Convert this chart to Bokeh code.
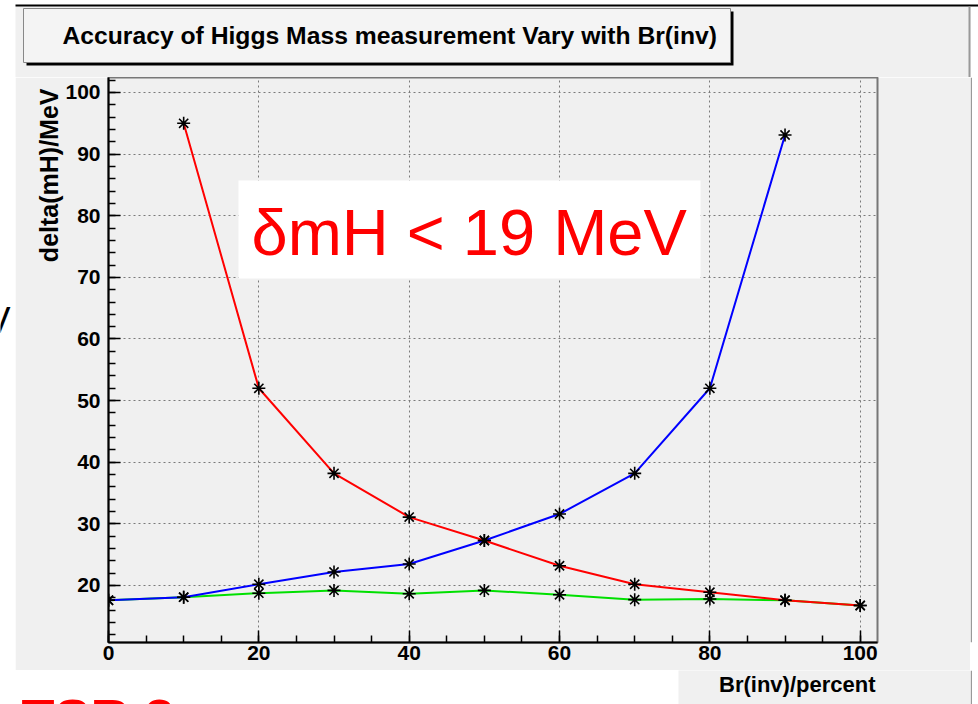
import math
from bokeh.plotting import figure
from bokeh.models import SingleIntervalTicker, Label, BoxAnnotation, Title, Range1d
from bokeh.layouts import column, row
from bokeh.embed import file_html
from bokeh.resources import INLINE

# ---- data ----
br_red = [10, 20, 30, 40, 50, 60, 70, 80, 90, 100]
dm_red = [95.0, 52.0, 38.2, 31.1, 27.3, 23.2, 20.2, 18.9, 17.6, 16.75]
br_blue = [0, 10, 20, 30, 40, 50, 60, 70, 80, 90]
dm_blue = [17.6, 18.1, 20.2, 22.2, 23.5, 27.3, 31.6, 38.2, 52.0, 93.1]
br_green = [0, 10, 20, 30, 40, 50, 60, 70, 80, 90, 100]
dm_green = [17.6, 18.1, 18.75, 19.2, 18.65, 19.2, 18.5, 17.7, 17.8, 17.6, 16.75]

title_text = "Accuracy of Higgs Mass measurement Vary with Br(inv)"
x_title = "Br(inv)/percent"
y_title = "delta(mH)/MeV"
note_text = "\u03b4mH < 19 MeV"

PANEL = "#f0f0f0"
FONT = "Liberation Sans"
W, H = 978, 704

# ---- page geometry (pixels) ----
PX0, PX1 = 15, 970      # grey pad, horizontally
PY0, PY1 = 6, 670       # grey pad (main part), vertically
FL, FR, FT, FB = 108, 877, 77, 642   # frame on the page
XR = (0.0, 102.3)
YR = (10.75, 102.43)


def dx(px):
    return XR[0] + (px - FL) * (XR[1] - XR[0]) / (FR - FL)


def dy(py):
    return YR[1] - (py - FT) * (YR[1] - YR[0]) / (FB - FT)


def blank(w, h, color, bottom=0):
    fh = h - bottom
    f = figure(width=w, height=h, frame_width=w, frame_height=fh,
               x_range=Range1d(0, w), y_range=Range1d(fh, 0),
               output_backend="svg", toolbar_location=None, title=None,
               x_axis_location=None, y_axis_location=None, min_border=0,
               min_border_bottom=bottom)
    f.border_fill_color = color
    f.background_fill_color = color
    f.outline_line_color = None
    f.xgrid.visible = False
    f.ygrid.visible = False
    return f


# ---- main plot ----
p = figure(width=PX1 - PX0, height=PY1 - FT, x_range=XR, y_range=YR,
           output_backend="svg", toolbar_location=None, title=None,
           min_border_left=FL - PX0, min_border_right=PX1 - FR,
           min_border_top=0, min_border_bottom=PY1 - FB)
p.border_fill_color = PANEL
p.background_fill_color = PANEL
p.outline_line_color = "#777777"
p.outline_line_width = 2

p.xaxis.ticker = SingleIntervalTicker(interval=20, num_minor_ticks=4)
p.yaxis.ticker = SingleIntervalTicker(interval=10, num_minor_ticks=5)
for ax in (p.xaxis[0], p.yaxis[0]):
    ax.axis_line_color = "black"
    ax.axis_line_width = 2
    ax.major_tick_in = 12
    ax.major_tick_out = 0
    ax.minor_tick_in = 7
    ax.minor_tick_out = 0
    ax.major_tick_line_color = "black"
    ax.major_tick_line_width = 1.5
    ax.minor_tick_line_color = "black"
    ax.minor_tick_line_width = 1.5
    ax.major_label_text_font = FONT
    ax.major_label_text_font_style = "bold"
    ax.major_label_text_font_size = "21px"
    ax.major_label_text_color = "black"
p.xaxis[0].major_label_standoff = 3
p.yaxis[0].major_label_standoff = 8

for g in (p.xgrid[0], p.ygrid[0]):
    g.grid_line_color = "#7a7a7a"
    g.grid_line_dash = "2 3"
    g.grid_line_width = 1

# white note box inside frame
p.add_layout(BoxAnnotation(left=dx(238), right=dx(700), top=dy(180), bottom=dy(278),
                           fill_color="white", fill_alpha=1, line_alpha=0, level="underlay"))

# curves
p.line(br_green, dm_green, line_color="#00e000", line_width=2)
p.line(br_blue, dm_blue, line_color="#0000ff", line_width=2)
p.line(br_red, dm_red, line_color="#ff0000", line_width=2)
for xs, ys in ((br_green, dm_green), (br_blue, dm_blue), (br_red, dm_red)):
    p.scatter(xs, ys, marker="asterisk", size=13, line_color="black", line_width=1.6)

p.add_layout(Label(x=dx(251), y=dy(232), text=note_text, text_font=FONT,
                   text_font_size="65px", text_color="#ff0000",
                   text_baseline="middle", text_align="left"))

# y axis title at the top end of the axis
p.add_layout(Title(text=y_title, align="right", offset=11, standoff=0,
                   text_font=FONT, text_font_style="bold", text_font_size="25px",
                   text_color="black"), "left")

# ---- page top: black rule, grey pad and the title box ----
head = blank(W, FT, "white")
head.quad(left=[PX0], right=[PX1], top=[PY0], bottom=[FT], fill_color=PANEL, line_alpha=0)
head.quad(left=[PX0], right=[W], top=[4], bottom=[PY0], fill_color="black", line_alpha=0)
head.quad(left=[PX1 - 2], right=[PX1], top=[PY0], bottom=[FT], fill_color="#999999",
          line_alpha=0)
head.quad(left=[26], right=[733], top=[11], bottom=[65], fill_color="black", line_alpha=0)
head.quad(left=[23], right=[730], top=[8], bottom=[62], fill_color="#f4f4f4",
          line_color="#888888", line_width=1)
head.add_layout(Label(x=62, y=35, text=title_text, text_font=FONT,
                      text_font_style="bold", text_font_size="24.7px", text_color="black",
                      text_baseline="middle", text_align="left"))

# ---- side strips ----
MB = PY1 - FB
left = blank(PX0, PY1 - FT, "white", bottom=MB)
left.add_layout(Label(x=10, y=319.5 - FT, text="V", text_font=FONT, text_font_size="36px",
                      text_color="black", text_baseline="middle", text_align="right"))

right = blank(W - PX1, PY1 - FT, "white", bottom=MB)
right.quad(left=[0], right=[1.5], top=[0], bottom=[FB - FT], fill_color="#999999",
           line_alpha=0)

# ---- bottom strip ----
BLW = 678
bl = blank(BLW, H - PY1, "white")
bl.add_layout(Label(x=174, y=47, text="TSR 3", text_font=FONT,
                    text_font_style="bold", text_font_size="54px", text_color="#ff0000",
                    text_baseline="middle", text_align="right"))

br = blank(PX1 - BLW, H - PY1, PANEL)
br.add_layout(Label(x=875 - BLW, y=683.5 - PY1, text=x_title, text_font=FONT,
                    text_font_style="bold", text_font_size="22px", text_color="black",
                    text_baseline="middle", text_align="right"))

right2 = blank(W - PX1, H - PY1, "white")
right2.quad(left=[0], right=[1.5], top=[0], bottom=[H - PY1], fill_color="#999999",
            line_alpha=0)

page = column(head, row(left, p, right), row(bl, br, right2))
open("out.html", "w").write(file_html(page, INLINE))
